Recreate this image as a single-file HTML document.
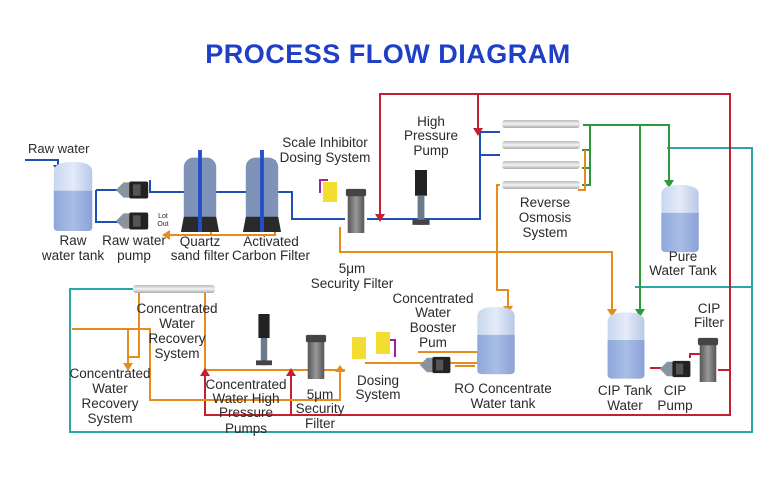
<!DOCTYPE html>
<html><head><meta charset="utf-8"><style>
body{margin:0;background:#fff}
svg{display:block}
text{font-family:"Liberation Sans",sans-serif;font-size:13.5px;fill:#2a2a2a;text-anchor:middle}
</style></head><body>
<svg width="780" height="483" viewBox="0 0 780 483" xmlns="http://www.w3.org/2000/svg">
<defs>
<linearGradient id="tk" x1="0" x2="1"><stop offset="0" stop-color="#c9d6ef"/><stop offset=".5" stop-color="#e4ebf8"/><stop offset="1" stop-color="#b9c8e8"/></linearGradient>
<linearGradient id="fl" x1="0" x2="1"><stop offset="0" stop-color="#8fa8da"/><stop offset=".5" stop-color="#a9bde6"/><stop offset="1" stop-color="#8aa2d6"/></linearGradient>
<linearGradient id="gr" x1="0" x2="1"><stop offset="0" stop-color="#555"/><stop offset=".5" stop-color="#999"/><stop offset="1" stop-color="#555"/></linearGradient>
<linearGradient id="mem" y1="0" y2="1" x1="0" x2="0"><stop offset="0" stop-color="#bbb"/><stop offset=".5" stop-color="#f4f4f4"/><stop offset="1" stop-color="#aaa"/></linearGradient>
<symbol id="tank" viewBox="0 0 50 75"><path d="M5 12 Q5 2 25 2 Q45 2 45 12 L45 70 Q45 74 40 74 L10 74 Q5 74 5 70Z" fill="url(#tk)"/><path d="M5 32 L45 32 L45 70 Q45 74 40 74 L10 74 Q5 74 5 70Z" fill="url(#fl)"/></symbol>
<symbol id="pump" viewBox="0 0 40 24"><path d="M2 12 L10 4 L18 4 L18 20 L10 20Z" fill="#8a949e"/><rect x="16" y="3" width="20" height="18" rx="2" fill="#222"/><rect x="20" y="6" width="8" height="12" fill="#555"/></symbol>
<symbol id="filt" viewBox="0 0 24 50"><rect x="3" y="6" width="18" height="44" fill="url(#gr)"/><rect x="1" y="2" width="22" height="8" rx="2" fill="#444"/></symbol>
<symbol id="vp" viewBox="0 0 20 70"><rect x="3" y="0" width="14" height="30" fill="#222"/><rect x="6" y="30" width="8" height="34" fill="#6a7a8c"/><rect x="0" y="58" width="20" height="6" fill="#444"/></symbol>
<symbol id="sand" viewBox="0 0 40 86"><rect x="3" y="8" width="34" height="70" rx="10" fill="#7e93b7"/><path d="M3 70 L37 70 L40 86 L0 86Z" fill="#2a2a2a"/><rect x="18" y="0" width="4" height="86" fill="#2350c8"/></symbol>
</defs>

<text x="388" y="63" style="font-size:27px;font-weight:bold;fill:#1e3fc6;letter-spacing:.5px">PROCESS FLOW DIAGRAM</text>

<g fill="none" stroke-width="2">
<path d="M667 148 L752 148 L752 432 L70 432 L70 289 L135 289" stroke="#2aa6a8"/>
<path d="M635 287 L752 287" stroke="#2aa6a8"/>
<path d="M380 218 L380 94 L730 94 L730 415 L205 415 L205 372" stroke="#c42030"/>
<path d="M478 94 L478 132" stroke="#c42030"/>
<path d="M291 415 L291 372" stroke="#c42030"/>
<path d="M650 368 L668 368 M690 358 L690 354 L712 354 M718 370 L730 370" stroke="#c42030"/>
<path d="M25 160 L58 160 L58 166" stroke="#1f4fb0"/>
<path d="M96 190 L96 222 L118 222 M96 190 L118 190 M150 180 L150 192 L292 192 L292 219 L345 219 M367 219 L480 219 L480 132 L500 132 M480 155 L500 155" stroke="#1f4fb0"/>
<path d="M583 125 L669 125 L669 183 M640 125 L640 312 M590 125 L590 185 L582 185 M590 150 L582 150 M590 168 L582 168" stroke="#2a9a3a"/>
<path d="M275 160 L275 235 L165 235 M211 160 L211 235" stroke="#e58c1c"/>
<path d="M340 227 L340 252 L612 252 L612 312" stroke="#e58c1c"/>
<path d="M500 185 L497 185 L497 252 M497 252 L497 290 L508 290 L508 308 M585 150 L585 190 L578 190" stroke="#e58c1c"/>
<path d="M72 329 L150 329 L150 400 L340 400 L340 368 M128 329 L128 366 M139 290 L139 357 L128 357 M205 290 L205 370 L345 370 M365 363 L478 363 L478 352 L418 352 M455 366 L475 366" stroke="#e58c1c"/>
<path d="M320 193 L320 180 L328 180 M355 357 L355 340 L360 340 M395 357 L395 340 L388 340" stroke="#a020a0"/>
</g>
<g>
<path d="M53 165 L63 165 L58 172Z" fill="#1f4fb0"/>
<path d="M375 214 L385 214 L380 222Z M473 128 L483 128 L478 136Z M200 376 L210 376 L205 368Z M286 376 L296 376 L291 368Z" fill="#c42030"/>
<path d="M664 180 L674 180 L669 188Z M635 309 L645 309 L640 317Z" fill="#2a9a3a"/>
<path d="M170 230 L170 240 L162 235Z M607 309 L617 309 L612 317Z M503 306 L513 306 L508 314Z M123 363 L133 363 L128 371Z M335 372 L345 372 L340 365Z" fill="#e58c1c"/>
</g>
<use href="#tank" x="48" y="160" width="50" height="72"/>
<use href="#tank" x="655" y="183" width="50" height="70"/>
<use href="#tank" x="472" y="305" width="48" height="70"/>
<use href="#tank" x="603" y="310" width="46" height="70"/>
<use href="#pump" x="114" y="178" width="38" height="24"/>
<use href="#pump" x="114" y="209" width="38" height="24"/>
<use href="#pump" x="418" y="353" width="36" height="24"/>
<use href="#pump" x="658" y="357" width="36" height="24"/>
<use href="#sand" x="180" y="150" width="40" height="82"/>
<use href="#sand" x="242" y="150" width="40" height="82"/>
<use href="#filt" x="344" y="187" width="24" height="46"/>
<use href="#filt" x="304" y="333" width="24" height="46"/>
<use href="#filt" x="696" y="336" width="24" height="46"/>
<use href="#vp" x="412" y="170" width="18" height="60"/>
<use href="#vp" x="255" y="314" width="18" height="56"/>
<rect x="323" y="182" width="14" height="20" fill="#f2dd30"/>
<rect x="352" y="337" width="14" height="22" fill="#f2dd30"/>
<rect x="376" y="332" width="14" height="22" fill="#f2dd30"/>
<g fill="url(#mem)"><rect x="502" y="120" width="78" height="8" rx="3"/><rect x="502" y="141" width="78" height="8" rx="3"/><rect x="502" y="161" width="78" height="8" rx="3"/><rect x="502" y="181" width="78" height="8" rx="3"/><rect x="133" y="285" width="82" height="8" rx="3"/></g>
<text x="28" y="153" style="font-size:13px;text-anchor:start">Raw water</text>
<text x="163" y="218" style="font-size:7px">Lot</text><text x="163" y="226" style="font-size:7px">Out</text>
<text x="73" y="245">Raw</text><text x="73" y="260">water tank</text>
<text x="134" y="245">Raw water</text><text x="134" y="260">pump</text>
<text x="200" y="246">Quartz</text><text x="200" y="260">sand filter</text>
<text x="271" y="246">Activated</text><text x="271" y="260">Carbon Filter</text>
<text x="325" y="147">Scale Inhibitor</text><text x="325" y="162">Dosing System</text>
<text x="431" y="126">High</text><text x="431" y="140">Pressure</text><text x="431" y="155">Pump</text>
<text x="545" y="207">Reverse</text><text x="545" y="222">Osmosis</text><text x="545" y="237">System</text>
<text x="683" y="261">Pure</text><text x="683" y="275">Water Tank</text>
<text x="352" y="273">5μm</text><text x="352" y="288">Security Filter</text>
<text x="433" y="303">Concentrated</text><text x="433" y="317">Water</text><text x="433" y="332">Booster</text><text x="433" y="347">Pum</text>
<text x="503" y="393">RO Concentrate</text><text x="503" y="408">Water tank</text>
<text x="625" y="395">CIP Tank</text><text x="625" y="410">Water</text>
<text x="675" y="395">CIP</text><text x="675" y="410">Pump</text>
<text x="709" y="313">CIP</text><text x="709" y="327">Filter</text>
<text x="177" y="313">Concentrated</text><text x="177" y="328">Water</text><text x="177" y="343">Recovery</text><text x="177" y="358">System</text>
<text x="110" y="378">Concentrated</text><text x="110" y="393">Water</text><text x="110" y="408">Recovery</text><text x="110" y="423">System</text>
<text x="246" y="389">Concentrated</text><text x="246" y="403">Water High</text><text x="246" y="417">Pressure</text><text x="246" y="433">Pumps</text>
<text x="320" y="399">5μm</text><text x="320" y="413">Security</text><text x="320" y="428">Filter</text>
<text x="378" y="385">Dosing</text><text x="378" y="399">System</text>
</svg>
</body></html>
